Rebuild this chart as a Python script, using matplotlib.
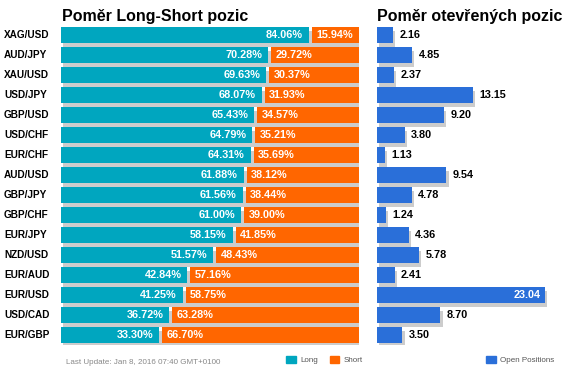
import matplotlib
matplotlib.use('Agg')
import matplotlib.pyplot as plt
from matplotlib.patches import Patch
import numpy as np

plt.rcParams['font.family'] = ['Liberation Sans', 'DejaVu Sans']

pairs = ['XAG/USD', 'AUD/JPY', 'XAU/USD', 'USD/JPY', 'GBP/USD', 'USD/CHF', 'EUR/CHF', 'AUD/USD',
         'GBP/JPY', 'GBP/CHF', 'EUR/JPY', 'NZD/USD', 'EUR/AUD', 'EUR/USD', 'USD/CAD', 'EUR/GBP']
long_pct = [84.06, 70.28, 69.63, 68.07, 65.43, 64.79, 64.31, 61.88,
            61.56, 61.00, 58.15, 51.57, 42.84, 41.25, 36.72, 33.30]
short_pct = [15.94, 29.72, 30.37, 31.93, 34.57, 35.21, 35.69, 38.12,
             38.44, 39.00, 41.85, 48.43, 57.16, 58.75, 63.28, 66.70]
open_pos = [2.16, 4.85, 2.37, 13.15, 9.20, 3.80, 1.13, 9.54,
            4.78, 1.24, 4.36, 5.78, 2.41, 23.04, 8.70, 3.50]

TEAL = '#00a6bf'
ORANGE = '#ff6600'
BLUE = '#2a6fd9'
SHADOW = '#cccccc'

W, H = 565, 373
fig = plt.figure(figsize=(W / 100, H / 100), dpi=100)

def px_axes(x0, x1, y0, y1):
    return fig.add_axes([x0 / W, 1 - y1 / H, (x1 - x0) / W, (y1 - y0) / H])

y = np.arange(len(pairs))
bh = 0.8
gap = 1.0

# left panel: long / short ratio
ax = px_axes(61, 359, 25, 345)
ax.set_xlim(0, 100)
ax.set_ylim(len(pairs) - 0.5, -0.5)
ax.barh(y + 0.2, 100.9, left=0.7, height=bh, color=SHADOW, zorder=1)
long_w = np.array(long_pct) * (100 - gap) / 100
ax.barh(y, long_w, height=bh, color=TEAL, zorder=2)
ax.barh(y, 100 - long_w - gap, left=long_w + gap, height=bh, color=ORANGE, zorder=2)
for i in range(len(pairs)):
    ax.text(long_w[i] - 2, y[i], f'{long_pct[i]:.2f}%', color='white', fontsize=7.8,
            fontweight='bold', ha='right', va='center', zorder=3)
    ax.text(long_w[i] + gap + 1.5, y[i], f'{short_pct[i]:.2f}%', color='white', fontsize=7.8,
            fontweight='bold', ha='left', va='center', zorder=3)
    ax.text(-57 / 298, y[i], pairs[i], fontsize=7.2, fontweight='bold', ha='left', va='center',
            transform=ax.get_yaxis_transform())
ax.set_xticks([])
ax.set_yticks([])
for s in ax.spines.values():
    s.set_visible(False)
ax.set_title('Poměr Long-Short pozic', fontsize=11.5, fontweight='bold', loc='left', pad=3, x=0.005)

# right panel: open positions
ax2 = px_axes(377, 559, 25, 345)
ax2.set_xlim(0, 25)
ax2.set_ylim(len(pairs) - 0.5, -0.5)
ax2.barh(y + 0.2, open_pos, left=0.3, height=bh, color=SHADOW, zorder=1)
ax2.barh(y, open_pos, height=bh, color=BLUE, zorder=2)
for i, v in enumerate(open_pos):
    if v > 20:
        ax2.text(v - 0.5, y[i], f'{v:.2f}', color='white', fontsize=7.8, fontweight='bold',
                 ha='right', va='center', zorder=3)
    else:
        ax2.text(v + 0.9, y[i], f'{v:.2f}', color='black', fontsize=7.8, fontweight='bold',
                 ha='left', va='center', zorder=3)
ax2.set_xticks([])
ax2.set_yticks([])
for s in ax2.spines.values():
    s.set_visible(False)
ax2.set_title('Poměr otevřených pozic', fontsize=11.5, fontweight='bold', loc='left', pad=3, x=0.0)

# footer
fig.text(66 / W, 1 - 362 / H, 'Last Update: Jan 8, 2016 07:40 GMT+0100', fontsize=5.8,
         color='#888888', va='center')
leg = fig.legend(handles=[Patch(color=TEAL, label='Long'), Patch(color=ORANGE, label='Short')],
                 loc='center left', bbox_to_anchor=(283 / W, 1 - 360 / H), ncol=2, frameon=False,
                 fontsize=5.8, handlelength=1.2, handleheight=1.0, handletextpad=0.5,
                 columnspacing=1.5, borderaxespad=0)
for t in leg.get_texts():
    t.set_color('#555555')
leg2 = fig.legend(handles=[Patch(color=BLUE, label='Open Positions')],
                  loc='center left', bbox_to_anchor=(483 / W, 1 - 360 / H), frameon=False,
                  fontsize=5.8, handlelength=1.2, handleheight=1.0, handletextpad=0.5,
                  borderaxespad=0)
for t in leg2.get_texts():
    t.set_color('#555555')

fig.savefig('out.png', dpi=100)
